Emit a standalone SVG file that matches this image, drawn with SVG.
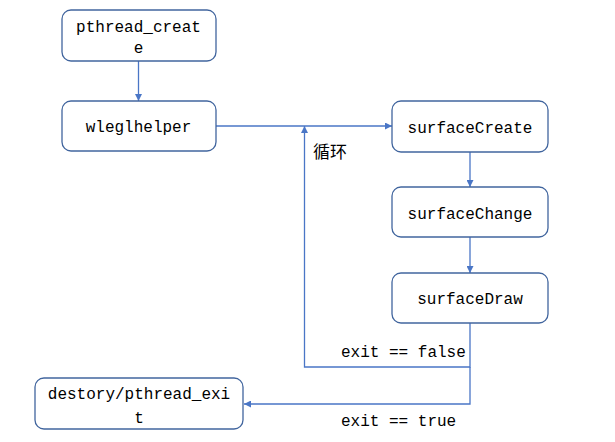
<svg xmlns="http://www.w3.org/2000/svg" width="615" height="442" viewBox="0 0 615 442">
<style>
.box{fill:#fff;stroke:#41659e;stroke-width:1.3}
.t{font-family:"Liberation Mono",monospace;font-size:16px;fill:#000;text-anchor:middle}
.tl{font-family:"Liberation Mono",monospace;font-size:16px;fill:#000}
.c{fill:none;stroke:#4a76c6;stroke-width:1.3}
.cn{font-family:"Noto Sans CJK SC",sans-serif;font-size:17px;fill:#000}
</style>
<defs>
<marker id="ah" viewBox="0 0 10 10" refX="10" refY="5" markerWidth="7" markerHeight="7" markerUnits="userSpaceOnUse" orient="auto">
<path d="M0,0 L10,5 L0,10 z" fill="#4a76c6"/>
</marker>
</defs>
<rect width="615" height="442" fill="#fff"/>
<g id="connectors">
<line class="c" x1="138.5" y1="61" x2="138.5" y2="101" marker-end="url(#ah)"/>
<line class="c" x1="216" y1="126" x2="392" y2="126" marker-end="url(#ah)"/>
<polyline class="c" points="470,323 470,367 304.5,367 304.5,126" marker-end="url(#ah)"/>
<line class="c" x1="470" y1="152" x2="470" y2="187" marker-end="url(#ah)"/>
<line class="c" x1="470" y1="237" x2="470" y2="273" marker-end="url(#ah)"/>
<polyline class="c" points="470,367 470,404 244,404" marker-end="url(#ah)"/>
<text class="cn" x="313" y="158">循环</text>
<text class="tl" x="341" y="357">exit == false</text>
<text class="tl" x="341" y="426">exit == true</text>
</g>
<g id="n-pthread-create">
<rect class="box" x="62" y="10" width="154" height="51" rx="9"/>
<text class="t" x="138.5" y="32">pthread_creat</text>
<text class="t" x="138.5" y="53">e</text>
</g>
<g id="n-wleglhelper">
<rect class="box" x="62" y="101" width="154" height="50" rx="9"/>
<text class="t" x="138.5" y="132">wleglhelper</text>
</g>
<g id="n-surfaceCreate">
<rect class="box" x="392" y="101" width="156" height="51" rx="9"/>
<text class="t" x="470" y="133">surfaceCreate</text>
</g>
<g id="n-surfaceChange">
<rect class="box" x="392" y="187" width="156" height="50" rx="9"/>
<text class="t" x="470" y="219">surfaceChange</text>
</g>
<g id="n-surfaceDraw">
<rect class="box" x="392" y="273" width="156" height="50" rx="9"/>
<text class="t" x="470" y="304">surfaceDraw</text>
</g>
<g id="n-destory">
<rect class="box" x="35" y="378" width="208" height="51" rx="9"/>
<text class="t" x="139" y="399">destory/pthread_exi</text>
<text class="t" x="139" y="423">t</text>
</g>
</svg>
